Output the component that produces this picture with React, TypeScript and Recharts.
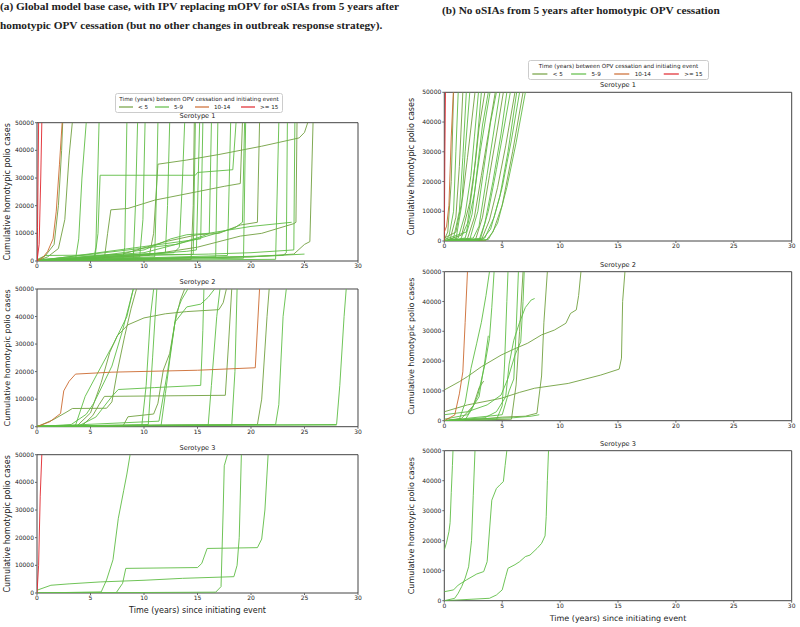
import { LineChart, Line, XAxis, YAxis, ReferenceArea } from "recharts";

type Run = number[][];

const X_TICKS = [0, 5, 10, 15, 20, 25, 30];
const Y_TICKS = [0, 10000, 20000, 30000, 40000, 50000];
const CATEGORIES = ["< 5", "5-9", "10-14", ">= 15"];
const LEGEND_TITLE = "Time (years) between OPV cessation and initiating event";
const Y_LABEL = "Cumulative homotypic polio cases";
const X_LABEL = "Time (years) since initiating event";
const HEAD_A1 = "(a) Global model base case, with IPV replacing mOPV for oSIAs from 5 years after";
const HEAD_A2 = "homotypic OPV cessation (but no other changes in outbreak response strategy).";
const HEAD_B = "(b) No oSIAs from 5 years after homotypic OPV cessation";

const COLORS: Record<string, string> = {
  "< 5": "#72a040",
  "5-9": "#5fbd45",
  "10-14": "#cc6a30",
  ">= 15": "#e0262c",
};

// panel (a) serotype 1
const A1_LT5: Run[] = [
  [[0, 500], [0.8, 2000], [1.6, 6000], [2.0, 20000], [2.3, 40000], [2.4, 50000]],
  [[0, 0], [1.0, 1500], [2.0, 4500], [2.6, 15000], [3.0, 38000], [3.3, 50000]],
  [[0, 0], [6.3, 1000], [6.6, 10000], [6.9, 18500], [8.5, 19000], [11, 22000], [14.9, 25000], [17.5, 27000], [19.0, 28000], [19.2, 50000]],
  [[0, 0], [10.5, 2000], [10.9, 10000], [11.3, 35000], [14, 36500], [17, 38500], [21, 41500], [24.5, 44500], [25.0, 46500], [25.3, 50000]],
  [[0, 200], [10, 2000], [15, 5000], [19, 9000], [21, 10000], [24, 13500], [24.2, 14000], [24.3, 50000]],
  [[0, 0], [8, 2500], [12, 7000], [15, 9500], [17, 10000], [19, 13000], [20.6, 14000], [20.8, 50000]],
  [[0, 0], [20, 1500], [24, 2500], [25, 6000], [25.5, 7000], [25.8, 50000]],
  [[0, 0], [14.4, 500], [14.6, 20000], [14.7, 50000]],
];
const A1_59: Run[] = [
  [[0, 0], [2.5, 200], [3.6, 600], [3.9, 8000], [4.2, 30000], [4.6, 50000]],
  [[0, 0], [5.3, 300], [5.5, 5000], [5.8, 50000]],
  [[0, 0], [5.4, 800], [5.7, 10000], [5.9, 31000], [14.8, 31000], [15.0, 32000], [18.3, 33000], [18.6, 50000]],
  [[0, 0], [8.0, 500], [8.2, 5000], [8.4, 50000]],
  [[0, 0], [9.0, 800], [9.2, 20000], [9.4, 50000]],
  [[0, 200], [9.6, 1500], [9.9, 15000], [10.1, 50000]],
  [[0, 0], [11.0, 1500], [11.2, 30000], [11.3, 50000]],
  [[0, 0], [12.0, 3000], [12.2, 20000], [12.4, 50000]],
  [[0, 300], [12.8, 3000], [13.3, 5000], [13.6, 30000], [13.8, 50000]],
  [[0, 0], [10, 2500], [14, 3500], [14.9, 4000], [15.2, 50000]],
  [[0, 0], [15.3, 8000], [15.5, 50000]],
  [[0, 200], [13, 6000], [15.5, 9000], [16.1, 10000], [16.3, 50000]],
  [[0, 0], [16.7, 1500], [16.9, 50000]],
  [[0, 0], [17.8, 2000], [18.1, 50000]],
  [[0, 500], [10, 3000], [15, 8000], [18.5, 12000], [19.2, 14000], [19.4, 50000]],
  [[0, 0], [19.3, 1000], [19.5, 50000]],
  [[0, 0], [22.3, 600], [22.6, 50000]],
  [[0, 0], [18, 1500], [23, 2000], [23.3, 3000], [23.4, 50000]],
  [[0, 300], [10, 2000], [16, 2500], [20, 3000], [24, 4000], [24.1, 50000]],
  [[0, 0], [0.8, 2000], [8, 2200], [14.6, 2400], [14.8, 50000]],
  [[0, 0], [6, 2000], [10, 4000], [12.5, 8000], [14, 9500], [16, 10000], [20, 12500], [23.8, 14000]],
  [[0, 0], [3, 300], [12, 1000], [20, 1500], [25, 2500]],
];
const A1_1014: Run[] = [
  [[0, 0], [0.5, 1000], [1.0, 3500], [1.5, 8000], [1.8, 18000], [2.1, 35000], [2.35, 50000]],
];
const A1_GE15: Run[] = [
  [[0, 0], [0.05, 12000], [0.1, 30000], [0.15, 50000]],
  [[0, 0], [0.2, 6000], [0.35, 30000], [0.45, 50000]],
];

// panel (a) serotype 2
const A2_LT5: Run[] = [
  [[0, 0], [1.5, 2500], [2.8, 5400], [3.3, 6600], [6.5, 6700], [7.0, 9000], [7.5, 20000], [8.2, 33000], [8.8, 43000], [9.3, 50000]],
  [[0, 0], [3.8, 500], [5, 5000], [6, 16000], [6.8, 27000], [7.5, 33000], [8.5, 37000], [10, 39500], [12, 41000], [14, 41800], [17, 42500], [17.4, 45000], [17.7, 50000]],
  [[0, 0], [4.2, 300], [5.2, 4000], [5.8, 8000], [6.3, 11000], [12, 11200], [17.6, 11400], [17.9, 30000], [18.2, 50000]],
  [[0, 0], [8.0, 0], [8.5, 3600], [10.9, 4600], [11.3, 8500], [11.8, 20500], [12.4, 26600], [12.9, 38000], [13.4, 46000], [13.8, 50000]],
  [[0, 300], [20.6, 800], [21.0, 10000], [21.5, 40000], [21.7, 50000]],
];
const A2_59: Run[] = [
  [[0, 0], [3.6, 500], [4.5, 11000], [5.6, 19000], [7.2, 30500], [8.4, 40000], [9.0, 50000]],
  [[0, 0], [3.2, 800], [4.6, 4500], [5.3, 8500], [6.0, 14000], [7.0, 22000], [8.0, 35000], [8.6, 44000], [9.0, 50000]],
  [[0, 0], [4.0, 500], [5.5, 3500], [7.0, 11000], [7.6, 13500], [11, 14200], [15.3, 15000], [15.5, 35000], [15.6, 50000]],
  [[0, 0], [9.8, 500], [10.2, 15000], [10.6, 40000], [10.9, 50000]],
  [[0, 0], [10.4, 800], [10.8, 25000], [11.2, 50000]],
  [[0, 0], [11.6, 500], [12.0, 12000], [12.4, 24000], [13.0, 41000], [13.5, 46000], [14.1, 50000]],
  [[0, 0], [11.4, 2000], [12.2, 20000], [12.9, 38000], [14, 43500], [15.3, 44500], [16, 47000], [16.6, 50000]],
  [[0, 300], [16, 600], [16.3, 15000], [16.8, 40000], [17.1, 50000]],
  [[0, 0], [18.2, 500], [18.5, 20000], [18.7, 50000]],
  [[0, 200], [22.3, 800], [22.6, 8000], [23.0, 40000], [23.3, 50000]],
  [[0, 200], [28, 800], [28.3, 15000], [28.7, 40000], [28.9, 50000]],
  [[0, 0], [6, 300], [15, 500], [28, 600]],
];
const A2_1014: Run[] = [
  [[0, 0], [1.2, 1800], [2.2, 4800], [2.5, 13000], [3.0, 16500], [3.6, 19100], [7, 19800], [15, 20500], [20.4, 21400], [20.8, 50000]],
];

// panel (a) serotype 3
const A3_59: Run[] = [
  [[0, 1000], [1.3, 2800], [3, 3300], [5.9, 4000], [10, 4600], [13.6, 5300], [18.4, 5900], [18.7, 10000], [18.9, 20000], [19.1, 50000]],
  [[0, 0], [6.0, 400], [6.5, 4700], [7.1, 12000], [7.6, 27000], [8.1, 37000], [8.4, 43000], [8.7, 50000]],
  [[0, 0], [7.4, 100], [8.0, 3500], [8.3, 8900], [15, 9200], [15.4, 10700], [15.9, 16100], [20.6, 16400], [21.0, 19500], [21.3, 30000], [21.6, 50000]],
  [[0, 0], [16.7, 300], [17.2, 2300], [17.4, 30000], [17.5, 46000], [17.8, 50000]],
];
const A3_GE15: Run[] = [
  [[0, 0], [0.15, 10000], [0.3, 35000], [0.45, 50000]],
];

// panel (b) serotype 1
const B1_LT5: Run[] = [
  [[0, 500], [0.3, 3000], [0.6, 20000], [0.8, 50000]],
  [[0, 0], [0.5, 500], [1.0, 8000], [1.3, 25000], [1.6, 50000]],
  [[0, 1000], [1.0, 3000], [1.6, 15000], [2.0, 28000], [2.3, 38000], [2.65, 50000]],
  [[0, 0], [1.5, 2000], [2.2, 13000], [2.7, 27000], [3.0, 38000], [3.5, 50000]],
  [[0, 0], [2.0, 800], [2.6, 8000], [3.2, 22000], [3.8, 36000], [4.4, 50000]],
  [[0, 0], [2.7, 500], [3.3, 8000], [3.9, 22000], [4.6, 38000], [5.1, 50000]],
  [[0, 0], [3.2, 300], [3.9, 7000], [4.6, 18000], [5.3, 32000], [6.1, 50000]],
  [[0, 0], [3.6, 200], [4.2, 3000], [5.0, 12000], [5.9, 30000], [6.8, 50000]],
];
const B1_59: Run[] = [
  [[0, 0], [0.4, 1500], [0.8, 10000], [1.0, 30000], [1.2, 50000]],
  [[0, 0], [0.8, 1000], [1.3, 10000], [1.6, 28000], [1.9, 50000]],
  [[0, 0], [1.0, 500], [1.5, 12000], [1.8, 30000], [2.2, 50000]],
  [[0, 0], [1.2, 1000], [1.8, 9000], [2.3, 22000], [2.6, 35000], [2.95, 50000]],
  [[0, 0], [1.4, 500], [2.0, 6000], [2.5, 20000], [2.9, 36000], [3.2, 50000]],
  [[0, 0], [1.8, 1000], [2.4, 9000], [2.9, 26000], [3.3, 39000], [3.8, 50000]],
  [[0, 500], [1.9, 3000], [2.6, 16000], [3.1, 30000], [3.6, 42000], [3.95, 50000]],
  [[0, 0], [2.2, 500], [2.9, 10000], [3.4, 24000], [4.0, 40000], [4.5, 50000]],
  [[0, 0], [2.5, 1000], [3.0, 5000], [3.6, 20000], [4.2, 35000], [4.8, 50000]],
  [[0, 0], [3.0, 300], [3.5, 6000], [4.2, 20000], [4.9, 36000], [5.4, 50000]],
  [[0, 0], [3.1, 500], [3.8, 10000], [4.5, 24000], [5.2, 39000], [5.7, 50000]],
  [[0, 0], [3.3, 500], [4.0, 4000], [4.8, 15000], [5.5, 30000], [6.25, 50000]],
  [[0, 0], [3.5, 1000], [4.3, 8000], [5.0, 18000], [5.8, 34000], [6.5, 50000]],
  [[0, 0], [3.8, 500], [4.6, 6000], [5.4, 18000], [6.2, 33000], [7.0, 50000]],
];
const B1_1014: Run[] = [
  [[0, 3000], [0.2, 5000], [0.4, 12000], [0.6, 35000], [0.78, 50000]],
];
const B1_GE15: Run[] = [
  [[0, 0], [0.05, 30000], [0.1, 50000]],
];

// panel (b) serotype 2
const B2_LT5: Run[] = [
  [[0, 10300], [1.3, 13100], [2.0, 14800], [3.2, 18100], [4.9, 22000], [6.0, 24000], [7.2, 26000], [8.4, 28800], [9.5, 30400], [10.5, 32700], [10.9, 36000], [11.4, 37200], [11.6, 42000], [11.8, 50000]],
  [[0, 3000], [2, 5300], [4.9, 7500], [6.5, 9500], [7.8, 10900], [10.7, 12500], [13.5, 15300], [15.1, 17300], [15.3, 21000], [15.4, 40000], [15.6, 50000]],
  [[0, 0], [3, 500], [5, 1200], [7.0, 1500], [8.0, 2500], [8.4, 15000], [8.6, 33000], [8.9, 50000]],
  [[0, 0], [1.5, 800], [2.5, 5000], [3.0, 11000], [3.4, 13300]],
  [[0, 0], [5.8, 500], [6.2, 12000], [6.5, 30000], [6.8, 50000]],
];
const B2_59: Run[] = [
  [[0, 2000], [2, 3000], [3.7, 5300], [4.9, 8600], [5.5, 14200], [6.1, 22000], [6.6, 26500], [6.8, 40000], [6.9, 50000]],
  [[0, 0], [1.8, 300], [2.4, 4000], [2.9, 8600], [3.5, 18700], [3.9, 27600], [4.1, 38000], [4.3, 50000]],
  [[0, 0], [1.3, 500], [1.8, 6000], [2.3, 17500], [2.8, 26000], [3.2, 33000], [3.6, 42000], [3.9, 50000]],
  [[0, 500], [2.0, 2000], [3.0, 8000], [3.5, 20000], [3.8, 28500]],
  [[0, 0], [3.5, 1000], [4.5, 3000], [5.3, 8000], [5.6, 19000], [6.0, 27000], [6.5, 33000], [7.0, 38000], [7.5, 40500], [7.8, 41000]],
  [[0, 0], [4.5, 300], [5.0, 5000], [5.2, 18700], [5.4, 40000], [5.5, 50000]],
  [[0, 0], [5.0, 2000], [5.6, 10000], [6.0, 14000], [6.2, 30000], [6.4, 50000]],
  [[0, 0], [3, 600], [6, 1000], [7.5, 1500], [8.2, 2000]],
];
const B2_1014: Run[] = [
  [[0, 0], [0.9, 1900], [1.3, 9000], [1.6, 16400], [1.8, 33000], [2.0, 50000]],
];

// panel (b) serotype 3
const B3_59: Run[] = [
  [[0, 16900], [0.2, 19500], [0.4, 23000], [0.5, 26000], [0.6, 36000], [0.7, 45000], [0.75, 50000]],
  [[0, 0], [0.9, 800], [1.2, 2500], [1.5, 4700], [1.8, 7500], [2.1, 11300], [2.35, 20000], [2.5, 35000], [2.65, 50000]],
  [[0, 3000], [0.8, 3600], [1.2, 5200], [1.9, 6900], [2.8, 8900], [3.4, 9700], [3.7, 13000], [4.1, 33500], [4.5, 37400], [4.8, 38600], [5.1, 39700], [5.25, 45000], [5.4, 50000]],
  [[0, 0], [3.9, 800], [4.5, 1900], [5.0, 3600], [5.3, 8000], [5.5, 10800], [6.1, 12000], [6.5, 13000], [7.0, 14700], [7.4, 15200], [8.0, 17400], [8.4, 19100], [8.7, 21600], [8.8, 28000], [8.9, 40000], [9.0, 50000]],
];

type Group = { cat: string; runs: Run[] };

const FONT = "DejaVu Sans, sans-serif";
const TICK = { fontSize: 6, fill: "#222", fontFamily: FONT };

interface PanelProps {
  left: number;
  top: number;
  height: number;
  margin: { top: number; right: number; bottom: number; left: number };
  yWidth: number;
  xHeight: number;
  title: string;
  groups: Group[];
  xLabel?: boolean;
}

const Panel = ({ left, top, height, margin, yWidth, xHeight, title, groups, xLabel }: PanelProps) => {
  const plotLeft = margin.left + yWidth;
  const plotRight = 400 - margin.right;
  return (
    <div style={{ position: "absolute", left, top, width: 400, height }}>
      <div
        style={{
          position: "absolute",
          left: plotLeft,
          width: plotRight - plotLeft,
          top: margin.top - 11,
          textAlign: "center",
          fontFamily: FONT,
          fontSize: 6.6,
          color: "#222",
          lineHeight: "9px",
        }}
      >
        {title}
      </div>
      <LineChart width={400} height={height} margin={margin}>
        <XAxis
          type="number"
          dataKey="x"
          domain={[0, 30]}
          ticks={X_TICKS}
          tick={TICK}
          tickSize={2}
          tickMargin={1}
          axisLine={false}
          height={xHeight}
          allowDataOverflow
          label={
            xLabel
              ? { value: X_LABEL, position: "insideBottom", offset: xHeight - 20, style: { fontSize: 8, fill: "#222", fontFamily: FONT } }
              : undefined
          }
        />
        <YAxis
          type="number"
          domain={[0, 50000]}
          ticks={Y_TICKS}
          tick={TICK}
          tickSize={2}
          tickMargin={1}
          axisLine={false}
          width={yWidth}
          allowDataOverflow
          label={{
            value: Y_LABEL,
            angle: -90,
            position: "insideLeft",
            offset: 3,
            style: { textAnchor: "middle", fontSize: 8, fill: "#222", fontFamily: FONT },
          }}
        />
        <ReferenceArea x1={0} x2={30} y1={0} y2={50000} fill="none" stroke="#444" strokeWidth={1} />
        {groups.flatMap((g) =>
          g.runs.map((run, i) => (
            <Line
              key={g.cat + i}
              data={run.map(([x, y]) => ({ x, y }))}
              dataKey="y"
              type="linear"
              stroke={COLORS[g.cat]}
              strokeWidth={1}
              strokeOpacity={0.9}
              dot={false}
              activeDot={false}
              isAnimationActive={false}
            />
          ))
        )}
      </LineChart>
    </div>
  );
};

const LegendBox = ({ left, top, width, height }: { left: number; top: number; width: number; height: number }) => {
  const k = width / 168;
  const offs = [4, 40, 80, 126];
  return (
    <svg style={{ position: "absolute", left, top }} width={width} height={height}>
      <rect x={0.5} y={0.5} width={width - 1} height={height - 1} rx={2} fill="#fff" stroke="#ccc" />
      <text x={width / 2} y={8} textAnchor="middle" fontSize={5.6} fontFamily={FONT} fill="#222">
        {LEGEND_TITLE}
      </text>
      {CATEGORIES.map((c, i) => {
        const x = offs[i] * k;
        return (
          <g key={c}>
            <line x1={x} x2={x + 14 * k} y1={14} y2={14} stroke={COLORS[c]} strokeWidth={1.2} />
            <text x={x + 19 * k} y={16} fontSize={5.6} fontFamily={FONT} fill="#222">
              {c}
            </text>
          </g>
        );
      })}
    </svg>
  );
};

const HEAD = {
  position: "absolute" as const,
  fontFamily: "Liberation Serif, serif",
  fontWeight: 700,
  fontSize: 11.3,
  color: "#222",
  lineHeight: "13px",
  whiteSpace: "nowrap" as const,
};

export default function App() {
  return (
    <div style={{ position: "fixed", left: 0, top: 0, width: 800, height: 627, background: "#fff", overflow: "hidden" }}>
      <div style={{ ...HEAD, left: 0, top: 0 }}>{HEAD_A1}</div>
      <div style={{ ...HEAD, left: 0, top: 19 }}>{HEAD_A2}</div>
      <div style={{ ...HEAD, left: 442, top: 4 }}>{HEAD_B}</div>

      <Panel
        left={0}
        top={110}
        height={163}
        margin={{ top: 12.7, right: 42, bottom: 0, left: 4 }}
        yWidth={33}
        xHeight={12}
        title="Serotype 1"
        groups={[
          { cat: "< 5", runs: A1_LT5 },
          { cat: "5-9", runs: A1_59 },
          { cat: "10-14", runs: A1_1014 },
          { cat: ">= 15", runs: A1_GE15 },
        ]}
      />
      <Panel
        left={0}
        top={280}
        height={158.7}
        margin={{ top: 9, right: 42, bottom: 0, left: 4 }}
        yWidth={33}
        xHeight={12}
        title="Serotype 2"
        groups={[
          { cat: "< 5", runs: A2_LT5 },
          { cat: "5-9", runs: A2_59 },
          { cat: "10-14", runs: A2_1014 },
        ]}
      />
      <Panel
        left={0}
        top={445}
        height={178}
        margin={{ top: 9.7, right: 42, bottom: 0, left: 4 }}
        yWidth={33}
        xHeight={30}
        title="Serotype 3"
        xLabel
        groups={[
          { cat: "5-9", runs: A3_59 },
          { cat: ">= 15", runs: A3_GE15 },
        ]}
      />
      <Panel
        left={400}
        top={85}
        height={168}
        margin={{ top: 7.3, right: 8.3, bottom: 0, left: 8 }}
        yWidth={36.3}
        xHeight={12}
        title="Serotype 1"
        groups={[
          { cat: "< 5", runs: B1_LT5 },
          { cat: "5-9", runs: B1_59 },
          { cat: "10-14", runs: B1_1014 },
          { cat: ">= 15", runs: B1_GE15 },
        ]}
      />
      <Panel
        left={400}
        top={265}
        height={167.7}
        margin={{ top: 6.7, right: 8.3, bottom: 0, left: 8 }}
        yWidth={36.3}
        xHeight={12}
        title="Serotype 2"
        groups={[
          { cat: "< 5", runs: B2_LT5 },
          { cat: "5-9", runs: B2_59 },
          { cat: "10-14", runs: B2_1014 },
        ]}
      />
      <Panel
        left={400}
        top={445}
        height={181.7}
        margin={{ top: 5.7, right: 8.3, bottom: 0, left: 8 }}
        yWidth={36.3}
        xHeight={26}
        title="Serotype 3"
        xLabel
        groups={[{ cat: "5-9", runs: B3_59 }]}
      />

      <LegendBox left={115} top={93} width={168} height={20} />
      <LegendBox left={528} top={60} width={181} height={20} />
    </div>
  );
}
